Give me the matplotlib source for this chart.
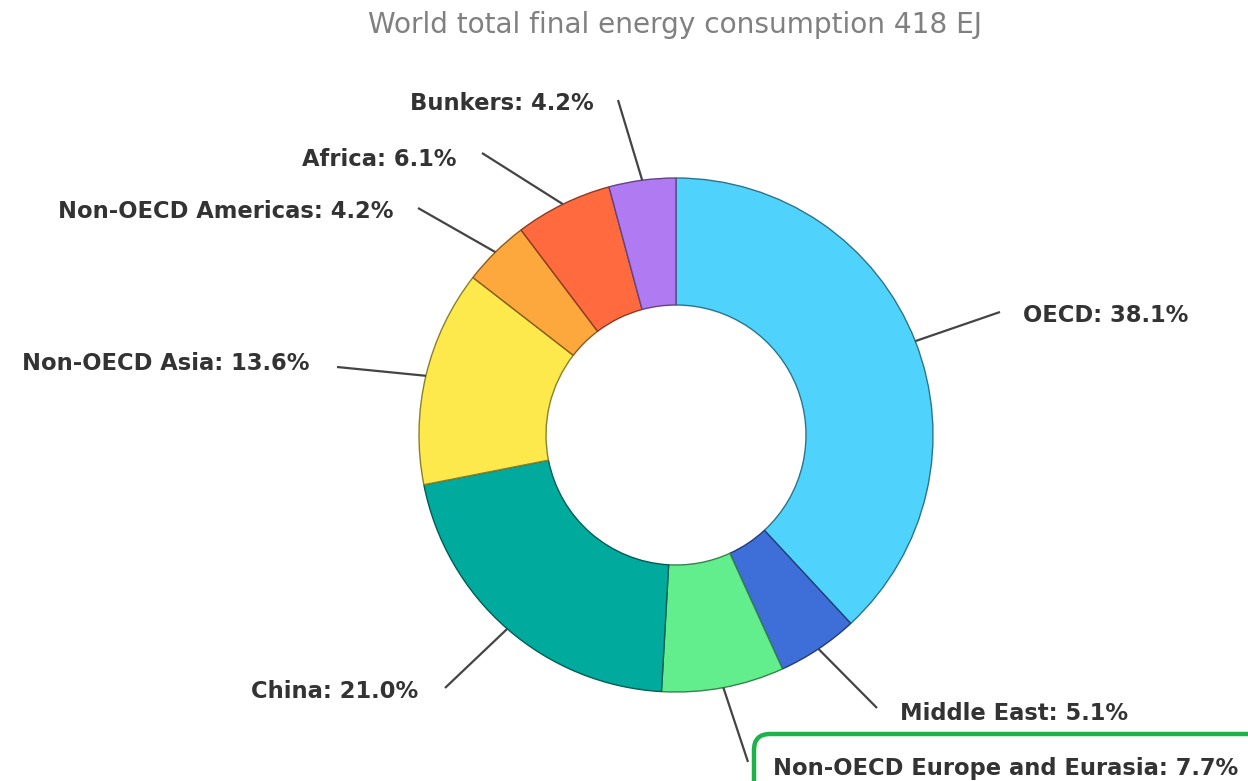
import numpy as np
import matplotlib
matplotlib.use("Agg")
import matplotlib.pyplot as plt
from matplotlib.colors import to_rgb
from matplotlib.patches import FancyBboxPatch

TITLE = "World total final energy consumption 418 EJ"
regions = ["OECD", "Middle East", "Non-OECD Europe and Eurasia", "China",
           "Non-OECD Asia", "Non-OECD Americas", "Africa", "Bunkers"]
shares = [38.1, 5.1, 7.7, 21.0, 13.6, 4.2, 6.1, 4.2]
colors = ["#4fd3fd", "#3e6fd8", "#62ee8c", "#00aa9c",
          "#fde94c", "#fca83c", "#ff6b3e", "#b07bf2"]

W, H = 1248, 781
CX, CY = 676, H - 435
R_OUT, R_IN = 257, 130

# leader end point and text anchor (image pixels, from top-left)
leader_end = [(1000, 312), (877, 708), (748, 762), (445, 688),
              (337, 367), (418, 208), (482, 153), (618, 100)]
text_anchor = [(1023, 315), (900, 713), (773, 768), (418, 691),
               (310, 363), (393, 212), (456, 159), (594, 104)]


def darker(c, f=0.55):
    return tuple(v * f for v in to_rgb(c))


def plot_energy_donut():
    fig = plt.figure(figsize=(W / 100, H / 100), dpi=100)
    ax = fig.add_axes([0, 0, 1, 1])

    wedges, _ = ax.pie(shares, colors=colors, startangle=90, counterclock=False,
                       center=(CX, CY), radius=R_OUT,
                       wedgeprops=dict(width=R_OUT - R_IN, linewidth=1.0))
    ax.set_xlim(0, W)
    ax.set_ylim(0, H)
    ax.set_aspect("equal")
    ax.axis("off")
    for w, c in zip(wedges, colors):
        w.set_edgecolor(darker(c))

    for w, name, val, (ex, ey), (tx, ty) in zip(wedges, regions, shares,
                                                  leader_end, text_anchor):
        ang = np.deg2rad((w.theta1 + w.theta2) / 2)
        x0, y0 = CX + R_OUT * np.cos(ang), CY + R_OUT * np.sin(ang)
        ax.plot([x0, ex], [y0, H - ey], color="#444444", lw=1.6, solid_capstyle="butt")
        right = tx > ex
        ax.text(tx, H - ty, f"{name}: {val:.1f}%",
                ha="left" if right else "right", va="center",
                fontsize=16.3, fontweight="bold", color="#333333", family="DejaVu Sans")

    ax.text(675, H - 33, TITLE, ha="center", va="baseline", fontsize=20.2,
            color="#808080", family="DejaVu Sans")

    box = FancyBboxPatch((754, -40), 540, 40 + (H - 734),
                         boxstyle="round,pad=0,rounding_size=16",
                         facecolor="none", edgecolor="#1fb24a", lw=3.2, clip_on=False)
    ax.add_patch(box)

    fig.savefig("out.png", dpi=100)


if __name__ == "__main__":
    plot_energy_donut()
